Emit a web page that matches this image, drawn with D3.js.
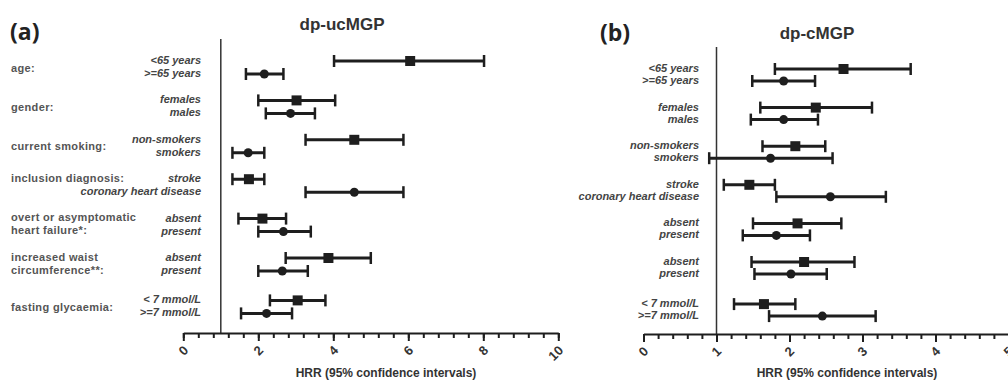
<!DOCTYPE html>
<html>
<head>
<meta charset="utf-8">
<script src="https://cdn.jsdelivr.net/npm/d3@7"></script>
<style>
  body { margin: 0; background: #fff; }
  text { font-family: "Liberation Sans", Arial, sans-serif; }
</style>
</head>
<body>
<div id="chart"></div>
<script>
// categories
const groupLabels = [
  ["age:"], ["gender:"], ["current smoking:"], ["inclusion diagnosis:", ""],
  ["overt or asymptomatic", "heart failure*:"], ["increased waist", "circumference**:"],
  ["fasting glycaemia:"]
];
const subgroups = ["<65 years", ">=65 years", "females", "males", "non-smokers", "smokers",
  "stroke", "coronary heart disease", "absent", "present", "absent", "present",
  "< 7 mmol/L", ">=7 mmol/L"];

// dp-ucMGP hazard rate ratios
const ucEst  = [6.05, 2.16, 3.02, 2.86, 4.56, 1.73, 1.75, 4.56, 2.11, 2.67, 3.87, 2.64, 3.05, 2.22];
const ucLow  = [4.02, 1.67, 2.00, 2.20, 3.26, 1.31, 1.31, 3.26, 1.47, 2.00, 2.73, 2.00, 2.31, 1.54];
const ucHigh = [8.02, 2.67, 4.05, 3.51, 5.87, 2.16, 2.16, 5.87, 2.74, 3.40, 5.00, 3.32, 3.79, 2.90];

// dp-cMGP hazard rate ratios
const cEst  = [2.74, 1.92, 2.36, 1.92, 2.08, 1.74, 1.45, 2.56, 2.11, 1.82, 2.20, 2.02, 1.65, 2.45];
const cLow  = [1.80, 1.49, 1.60, 1.47, 1.63, 0.90, 1.10, 1.82, 1.50, 1.36, 1.48, 1.52, 1.24, 1.72];
const cHigh = [3.66, 2.35, 3.13, 2.39, 2.49, 2.59, 1.80, 3.32, 2.71, 2.28, 2.89, 2.51, 2.08, 3.18];

// tick labels
const ticksA = [0, 2, 4, 6, 8, 10];
const ticksB = [0, 1, 2, 3, 4, 5];

const width = 1008, height = 380;
const ink = "#1e1e1e";

var svg = d3.select("#chart")
    .append("svg")
    .attr("width", width)
    .attr("height", height);

const panels = [
  { tag: "(a)", tagX: 10, tagY: 40, title: "dp-ucMGP", titleX: 342, titleY: 30,
    domain: [0, 10], range: [183.3, 558.3], ticks: ticksA, minorStep: 0.4,
    rows: [61, 258], lastGap: 3, pairGap: 13, refTop: 39, axisY: 333,
    labelRight: 201, catLabels: true, axisTitleX: 386,
    est: ucEst, low: ucLow, high: ucHigh },
  { tag: "(b)", tagX: 600, tagY: 41, title: "dp-cMGP", titleX: 817, titleY: 39,
    domain: [0, 5], range: [643.5, 1008.5], ticks: ticksB, minorStep: 0.2,
    rows: [69, 262], lastGap: 3.5, pairGap: 12, refTop: 47, axisY: 334,
    labelRight: 699, catLabels: false, axisTitleX: 847,
    est: cEst, low: cLow, high: cHigh }
];

const drawPanel = (p) => {
    var g = svg.append("g");
    var x = d3.scaleLinear().domain(p.domain).range(p.range);
    var yGroup = d3.scaleLinear().domain([0, 5]).range(p.rows);
    const rowY = (i) => {
        const gi = Math.floor(i / 2);
        return yGroup(gi) + (gi > 5 ? p.lastGap : 0) + (i % 2) * p.pairGap;
    };

    // panel tag and title
    g.append("text")
        .attr("x", p.tagX).attr("y", p.tagY)
        .style("font-family", "'Open Sans', sans-serif")
        .style("font-weight", "bold").style("font-size", "23px")
        .attr("fill", "#222").text(p.tag);
    g.append("text")
        .attr("x", p.titleX).attr("y", p.titleY)
        .attr("text-anchor", "middle")
        .style("font-weight", "bold").style("font-size", "17px")
        .attr("fill", "#333").text(p.title);

    // reference line at HRR = 1
    g.append("line")
        .attr("x1", x(1)).attr("x2", x(1))
        .attr("y1", p.refTop).attr("y2", p.axisY)
        .style("stroke", "#333").style("stroke-width", 1.5);

    // minor ticks
    g.append("g")
        .attr("transform", "translate(0," + p.axisY + ")")
        .call(d3.axisBottom(x)
            .tickValues(d3.range(p.domain[0], p.domain[1] + 1e-9, p.minorStep))
            .tickSize(5).tickSizeOuter(0).tickFormat(""))
        .call((a) => a.selectAll("line").style("stroke", ink).style("stroke-width", 2))
        .call((a) => a.select(".domain").style("stroke", ink).style("stroke-width", 2));

    // major ticks
    var major = g.append("g")
        .attr("transform", "translate(0," + p.axisY + ")")
        .call(d3.axisBottom(x).tickValues(p.ticks).tickSize(8).tickSizeOuter(0)
            .tickFormat(d3.format("d")));
    major.select(".domain").remove();
    major.selectAll("line").style("stroke", ink).style("stroke-width", 2);
    major.selectAll("text")
        .attr("y", 0).attr("dy", "0.35em")
        .attr("text-anchor", "end")
        .attr("transform", "translate(2,15) rotate(-45)")
        .style("font-family", "'Liberation Sans', Arial, sans-serif")
        .style("font-weight", "bold").style("font-size", "13px")
        .attr("fill", "#333");

    // axis title
    g.append("text")
        .attr("x", p.axisTitleX).attr("y", 377)
        .attr("text-anchor", "middle")
        .style("font-weight", "bold").style("font-size", "12px")
        .attr("fill", "#333").text("HRR (95% confidence intervals)");

    // subgroup labels
    g.selectAll(".sub")
        .data(subgroups)
        .enter()
        .append("text")
        .attr("x", p.labelRight)
        .attr("y", (d, i) => rowY(i) + 3)
        .attr("text-anchor", "end")
        .style("font-weight", "bold").style("font-style", "italic")
        .style("font-size", "11px")
        .attr("fill", "#444")
        .text((d) => d);

    // category labels
    if (p.catLabels) {
        groupLabels.forEach((lines, gi) => {
            lines.forEach((line, li) => {
                const yy = lines.length == 1
                    ? (rowY(gi * 2) + rowY(gi * 2 + 1)) / 2 + 4
                    : rowY(gi * 2 + li) + 2.5;
                g.append("text")
                    .attr("x", 11).attr("y", yy)
                    .style("font-weight", "bold").style("font-size", "11px")
                    .style("letter-spacing", "0.35px")
                    .attr("fill", "#555")
                    .text(line);
            });
        });
    }

    // error bars
    const idx = d3.range(p.est.length);
    g.selectAll(".ci")
        .data(idx).enter().append("line")
        .attr("x1", (i) => x(p.low[i])).attr("x2", (i) => x(p.high[i]))
        .attr("y1", rowY).attr("y2", rowY)
        .style("stroke", ink).style("stroke-width", 3);
    ["low", "high"].forEach((side) => {
        g.selectAll(".cap-" + side)
            .data(idx).enter().append("line")
            .attr("x1", (i) => x(p[side][i])).attr("x2", (i) => x(p[side][i]))
            .attr("y1", (i) => rowY(i) - 6).attr("y2", (i) => rowY(i) + 6)
            .style("stroke", ink).style("stroke-width", 2.5);
    });

    // squares for the first subgroup of each pair, circles for the second
    g.selectAll(".sq")
        .data(idx.filter((i) => i % 2 == 0)).enter().append("rect")
        .attr("x", (i) => x(p.est[i]) - 5).attr("y", (i) => rowY(i) - 5)
        .attr("width", 10).attr("height", 10)
        .style("fill", ink);
    g.selectAll(".dot")
        .data(idx.filter((i) => i % 2 == 1)).enter().append("circle")
        .attr("cx", (i) => x(p.est[i])).attr("cy", rowY)
        .attr("r", 4.5)
        .style("fill", ink);
};

panels.forEach(drawPanel);
</script>
</body>
</html>
